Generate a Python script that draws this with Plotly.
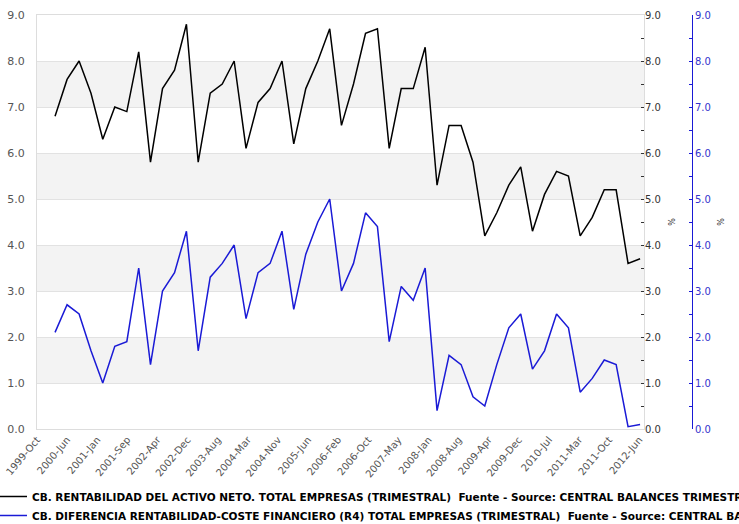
import pandas as pd
import plotly.graph_objects as go

# ---- data (quarterly, 2000-Q1 .. 2012-Q2) ----
dates = pd.date_range("2000-03-01", periods=50, freq="3MS")

rentabilidad_activo = [
    6.8, 7.6, 8.0, 7.3, 6.3, 7.0, 6.9, 8.2, 5.8, 7.4, 7.8, 8.8,
    5.8, 7.3, 7.5, 8.0, 6.1, 7.1, 7.4, 8.0, 6.2, 7.4, 8.0, 8.7, 6.6,
    7.5, 8.6, 8.7, 6.1, 7.4, 7.4, 8.3, 5.3, 6.6, 6.6, 5.8, 4.2,
    4.7, 5.3, 5.7, 4.3, 5.1, 5.6, 5.5, 4.2, 4.6, 5.2, 5.2, 3.6, 3.7,
]

diferencia_r4 = [
    2.1, 2.7, 2.5, 1.7, 1.0, 1.8, 1.9, 3.5, 1.4, 3.0, 3.4, 4.3,
    1.7, 3.3, 3.6, 4.0, 2.4, 3.4, 3.6, 4.3, 2.6, 3.8, 4.5, 5.0, 3.0,
    3.6, 4.7, 4.4, 1.9, 3.1, 2.8, 3.5, 0.4, 1.6, 1.4, 0.7, 0.5,
    1.4, 2.2, 2.5, 1.3, 1.7, 2.5, 2.2, 0.8, 1.1, 1.5, 1.4, 0.05, 0.1,
]

tick_labels = [
    "1999-Oct", "2000-Jun", "2001-Jan", "2001-Sep", "2002-Apr", "2002-Dec",
    "2003-Aug", "2004-Mar", "2004-Nov", "2005-Jun", "2006-Feb", "2006-Oct",
    "2007-May", "2008-Jan", "2008-Aug", "2009-Apr", "2009-Dec", "2010-Jul",
    "2011-Mar", "2011-Oct", "2012-Jun",
]

name_black = ("CB. RENTABILIDAD DEL ACTIVO NETO. TOTAL EMPRESAS (TRIMESTRAL) \u00a0"
              "Fuente - Source: CENTRAL BALANCES TRIMESTRAL")
name_blue = ("CB. DIFERENCIA RENTABILIDAD-COSTE FINANCIERO (R4) TOTAL EMPRESAS (TRIMESTRAL) \u00a0"
             "Fuente - Source: CENTRAL BALANCES TRIMESTRAL")

band_starts = [1, 3, 5, 7]

# ---- layout helpers ----
x_start = pd.Timestamp("1999-10-15")
x_end = pd.Timestamp("2012-07-01")
tick_vals = pd.date_range(x_start, "2012-05-25", periods=len(tick_labels))

BLUE = "#1a1ad6"
FONT = "DejaVu Sans"

fig = go.Figure()
fig.add_trace(go.Scatter(x=dates, y=rentabilidad_activo, name=name_black,
                         mode="lines", line=dict(color="#000000", width=1.5),
                         yaxis="y"))
fig.add_trace(go.Scatter(x=dates, y=diferencia_r4, name=name_blue,
                         mode="lines", line=dict(color=BLUE, width=1.5),
                         yaxis="y3"))
# same black series bound to the right-hand black axis (kept invisible)
fig.add_trace(go.Scatter(x=dates, y=rentabilidad_activo, mode="lines",
                         line=dict(color="rgba(0,0,0,0)", width=0),
                         showlegend=False, hoverinfo="skip", yaxis="y2"))

for b in band_starts:
    fig.add_shape(type="rect", xref="x domain", yref="y", x0=0, x1=1,
                  y0=b, y1=b + 1, fillcolor="#f3f3f3", line=dict(width=0),
                  layer="below")

fig.update_layout(
    width=739, height=524,
    margin=dict(l=37, r=47, t=15, b=95, autoexpand=False),
    paper_bgcolor="white", plot_bgcolor="white",
    font=dict(family=FONT, size=10, color="#555555"),
    showlegend=True,
    legend=dict(orientation="v", x=-0.0687, y=-0.128, xanchor="left", yanchor="top",
                font=dict(family=FONT, size=10.5, color="#000000", weight="bold"),
                bgcolor="rgba(0,0,0,0)", itemwidth=30, tracegroupgap=0),
    xaxis=dict(domain=[0, 607 / 655], type="date", range=[x_start, x_end],
               tickvals=tick_vals, ticktext=tick_labels, tickangle=-50,
               tickfont=dict(size=10, color="#555555"), showgrid=False,
               showline=True, linecolor="#dddddd", mirror=True, ticks="",
               zeroline=False, automargin=False),
    yaxis=dict(range=[0, 9], dtick=1, tickformat=".1f", showgrid=True,
               gridcolor="#e2e2e2", gridwidth=1, zeroline=False,
               showline=True, linecolor="#dddddd", mirror=True,
               tickfont=dict(size=11, color="#555555"), ticklabelstandoff=9,
               automargin=False),
    yaxis2=dict(overlaying="y", side="right", anchor="x", range=[0, 9], dtick=1,
                tickformat=".1f", showgrid=False, zeroline=False,
                ticks="inside", ticklen=3, tickcolor="#333333",
                minor=dict(dtick=0.5, ticks="inside", ticklen=3, tickcolor="#333333"),
                tickfont=dict(size=10, color="#333333"), automargin=False,
                title=dict(text="%", font=dict(size=8, color="#333333"), standoff=9)),
    yaxis3=dict(overlaying="y", side="right", anchor="free", position=1,
                range=[0, 9], dtick=1, tickformat=".1f", showgrid=False,
                zeroline=False, showline=True, linecolor=BLUE, linewidth=1,
                ticks="inside", ticklen=3, tickcolor=BLUE,
                minor=dict(dtick=0.5, ticks="inside", ticklen=3, tickcolor=BLUE),
                tickfont=dict(size=10, color="#3333cc"), automargin=False,
                title=dict(text="%", font=dict(size=8, color="#333333"), standoff=8)),
)

fig.write_html("out.html",
               config={"displayModeBar": False},
               post_script="document.body.style.margin='0';document.body.style.overflow='hidden';")
